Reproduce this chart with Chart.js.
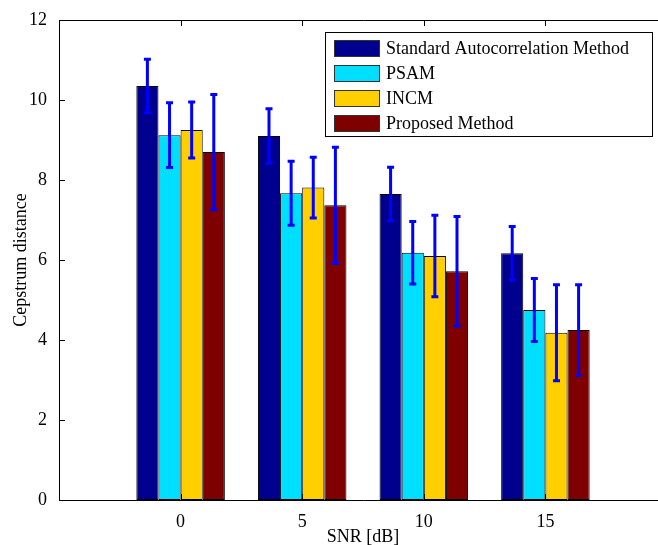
<!DOCTYPE html>
<html>
<head>
<meta charset="utf-8">
<script src="https://cdn.jsdelivr.net/npm/chart.js@4"></script>
<style>
  html, body { margin: 0; padding: 0; background: #fff; overflow: hidden; }
  #wrap { width: 672px; height: 548px; }
</style>
</head>
<body>
<div id="wrap"><canvas id="cepChart" width="672" height="548"></canvas></div>
<script>
// SNR groups (dB)
const snr = [0, 5, 10, 15];
const yTicks = [0, 2, 4, 6, 8, 10, 12];

const seriesNames = ['Standard Autocorrelation Method', 'PSAM', 'INCM', 'Proposed Method'];
const seriesColors = ['#00008f', '#00dfff', '#ffcf00', '#7f0000'];

// mean cepstrum distance and error (+/-) per method
const samMean = [10.35, 9.10, 7.65, 6.17];
const samErr = [0.67, 0.68, 0.67, 0.67];
const psamMean = [9.12, 7.67, 6.18, 4.75];
const psamErr = [0.81, 0.80, 0.78, 0.79];
const incmMean = [9.25, 7.81, 6.10, 4.18];
const incmErr = [0.70, 0.76, 1.02, 1.20];
const propMean = [8.70, 7.37, 5.72, 4.25];
const propErr = [1.44, 1.45, 1.37, 1.13];

const means = [samMean, psamMean, incmMean, propMean];
const errs = [samErr, psamErr, incmErr, propErr];

const FONT = { family: '"Liberation Serif", "Times New Roman", serif', size: 18 };

// blue error bars
const errorBars = {
    id: 'errorBars',
    afterDatasetsDraw(chart) {
        const ctx = chart.ctx;
        const y = chart.scales.y;
        ctx.save();
        ctx.strokeStyle = '#0000ff';
        ctx.lineWidth = 3;
        chart.data.datasets.forEach((ds, i) => {
            const meta = chart.getDatasetMeta(i);
            meta.data.forEach((bar, j) => {
                const top = y.getPixelForValue(means[i][j] + errs[i][j]);
                const bot = y.getPixelForValue(means[i][j] - errs[i][j]);
                ctx.beginPath();
                ctx.moveTo(bar.x, top); ctx.lineTo(bar.x, bot);
                ctx.moveTo(bar.x - 3.5, top); ctx.lineTo(bar.x + 3.5, top);
                ctx.moveTo(bar.x - 3.5, bot); ctx.lineTo(bar.x + 3.5, bot);
                ctx.stroke();
            });
        });
        ctx.restore();
    }
};

// matlab style box, inward ticks and legend
const axesBox = {
    id: 'axesBox',
    afterDraw(chart) {
        const ctx = chart.ctx;
        const a = chart.chartArea;
        const x = chart.scales.x, y = chart.scales.y;
        ctx.save();
        ctx.strokeStyle = '#000';
        ctx.lineWidth = 1;
        ctx.beginPath();
        ctx.moveTo(a.left + 0.5, a.top + 0.5);
        ctx.lineTo(a.left + 0.5, a.bottom + 0.5);
        ctx.lineTo(a.right, a.bottom + 0.5);
        ctx.moveTo(a.left + 0.5, a.top + 0.5);
        ctx.lineTo(a.right, a.top + 0.5);
        yTicks.forEach(v => {
            const py = Math.round(y.getPixelForValue(v)) + 0.5;
            ctx.moveTo(a.left, py); ctx.lineTo(a.left + 6, py);
        });
        snr.forEach(v => {
            const px = Math.round(x.getPixelForValue(v)) + 0.5;
            ctx.moveTo(px, a.top); ctx.lineTo(px, a.top + 6);
            ctx.moveTo(px, a.bottom); ctx.lineTo(px, a.bottom - 6);
        });
        ctx.stroke();

        // legend
        const lx = 325.5, ly = 32.5, lw = 327, lh = 104;
        ctx.fillStyle = '#fff';
        ctx.fillRect(lx, ly, lw, lh);
        ctx.strokeRect(lx, ly, lw, lh);
        ctx.font = FONT.size + 'px ' + FONT.family;
        ctx.textBaseline = 'middle';
        seriesNames.forEach((name, i) => {
            const cy = 48 + i * 25;
            ctx.fillStyle = seriesColors[i];
            ctx.fillRect(334, cy - 8, 46, 17);
            ctx.strokeStyle = '#333';
            ctx.strokeRect(334.5, cy - 7.5, 45, 16);
            ctx.fillStyle = '#000';
            ctx.fillText(name, 386, cy + 1);
        });
        ctx.restore();
    }
};

const ctx = document.getElementById('cepChart').getContext('2d');
const chart = new Chart(ctx, {
    type: 'bar',
    data: {
        datasets: seriesNames.map((name, i) => ({
            label: name,
            data: snr.map((s, j) => ({ x: s, y: means[i][j] })),
            backgroundColor: seriesColors[i],
            borderColor: '#000',
            borderWidth: 1,
            borderSkipped: false,
            barPercentage: 1,
            categoryPercentage: 0.728
        }))
    },
    options: {
        responsive: false,
        animation: false,
        layout: { padding: { top: 20, right: 5, left: 0, bottom: 0 } },
        plugins: { legend: { display: false }, tooltip: { enabled: false } },
        scales: {
            x: {
                type: 'linear',
                offset: false,
                min: -5,
                max: 20,
                afterBuildTicks: s => { s.ticks = snr.map(v => ({ value: v })); },
                afterFit: s => { s.height = 48; },
                grid: { display: false },
                border: { display: false },
                ticks: { color: '#000', font: FONT, padding: 3, maxRotation: 0 },
                title: { display: true, text: 'SNR [dB]', color: '#000', font: FONT, padding: 0 }
            },
            y: {
                min: 0,
                max: 12,
                afterBuildTicks: s => { s.ticks = yTicks.map(v => ({ value: v })); },
                afterFit: s => { s.width = 59; },
                grid: { display: false },
                border: { display: false },
                ticks: { color: '#000', font: FONT, padding: 4 },
                title: { display: true, text: 'Cepstrum distance', color: '#000', font: FONT, padding: { top: 10 } }
            }
        }
    },
    plugins: [errorBars, axesBox]
});
</script>
</body>
</html>
